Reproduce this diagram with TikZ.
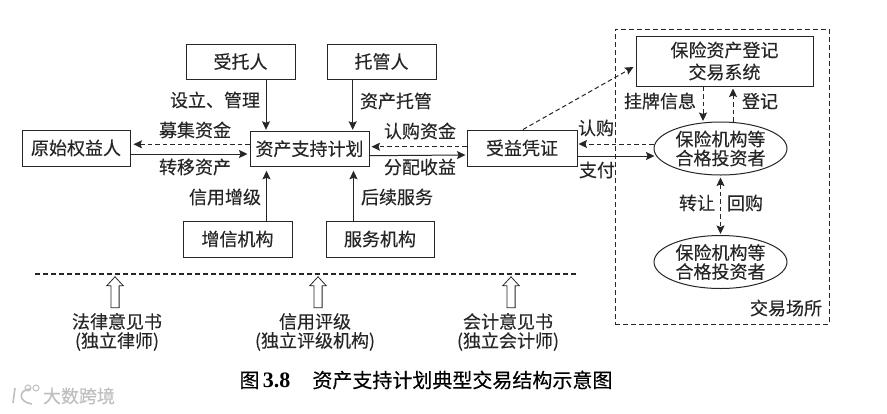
\documentclass[tikz,border=0pt]{standalone}
\usepackage{fontspec}
\setmainfont[FakeBold=0.25]{Noto Sans CJK SC}
\newfontfamily\capnum{Liberation Serif}
\usetikzlibrary{arrows.meta,shapes.geometric,shapes.arrows}
\tikzset{
  x=1pt,y=-1pt,
  every node/.style={font=\fontsize{18}{19}\selectfont,text=black!85,inner sep=0pt},
  tbox/.style={draw=black!85,line width=1pt,rectangle,align=center,fill=white},
  oval/.style={draw=black!85,line width=1pt,ellipse,align=center,minimum width=133pt,minimum height=53pt,fill=white},
  lbl/.style={align=center},
  solidarr/.style={draw=black!85,line width=1pt,-{Stealth[length=8.5pt,width=8pt,inset=1.5pt]}},
  dasharr/.style={solidarr,dash pattern=on 4.5pt off 3pt},
  bothdash/.style={dasharr,{Stealth[length=8.5pt,width=8pt,inset=1.5pt]}-{Stealth[length=8.5pt,width=8pt,inset=1.5pt]}},
  hollow/.style={draw=black!85,line width=0.8pt,single arrow,rotate=90,minimum height=31pt,minimum width=16pt,inner sep=3.7pt,single arrow head extend=4.2pt,single arrow tip angle=85},
  frame/.style={draw=black!85,line width=1pt,dash pattern=on 5pt off 3pt},
  wmline/.style={draw=black!25,line width=1.6pt},
}
\begin{document}
\begin{tikzpicture}
\useasboundingbox (0,0) rectangle (887,413);
\fill[white] (0,0) rectangle (887,413);
% market frame
\node[frame,rectangle,minimum width=214pt,minimum height=295pt] (market) at (722,176.5) {};
% boxes
\node[tbox,minimum width=109pt,minimum height=35pt] (trustee) at (240.5,61.5) {受托人};
\node[tbox,minimum width=109pt,minimum height=35pt] (custodian) at (381.5,61.5) {托管人};
\node[tbox,minimum width=108pt,minimum height=36pt] (orig) at (76,148) {原始权益人};
\node[tbox,minimum width=119pt,minimum height=35pt] (plan) at (309.5,148.8) {资产支持计划};
\node[tbox,minimum width=109pt,minimum height=36pt] (enhance) at (237.5,239) {增信机构};
\node[tbox,minimum width=108pt,minimum height=36pt] (service) at (380,239) {服务机构};
\node[tbox,minimum width=110pt,minimum height=36pt] (cert) at (522,148) {受益凭证};
\node[tbox,minimum width=177pt,minimum height=50pt,font=\fontsize{18}{22}\selectfont] (system) at (724.5,61) {保险资产登记\\交易系统};
\node[oval] (inv1) at (720.5,148.5) {保险机构等\\合格投资者};
\node[oval] (inv2) at (720.5,262) {保险机构等\\合格投资者};
% connectors
\draw[solidarr] ([xshift=25.5pt]trustee.south) -- ([xshift=-43.5pt,yshift=1pt]plan.north);
\draw[solidarr] ([xshift=-28.8pt]custodian.south) -- ([xshift=43.2pt,yshift=1pt]plan.north);
\draw[solidarr] ([xshift=29pt]enhance.north) -- ([xshift=-43pt,yshift=-4pt]plan.south);
\draw[solidarr] ([xshift=-26.5pt]service.north) -- ([xshift=44pt,yshift=-4pt]plan.south);
\draw[dasharr] ([yshift=4.5pt]plan.west) -- ([xshift=3pt,yshift=3.7pt]orig.east);
\draw[solidarr] ([yshift=-6pt]orig.east) -- ([xshift=-2pt,yshift=-5.2pt]plan.west);
\draw[dasharr] ([yshift=1.3pt]cert.west) -- ([xshift=2pt,yshift=2.1pt]plan.east);
\draw[solidarr] ([yshift=-6.9pt]plan.east) -- ([xshift=-1pt,yshift=-7pt]cert.west);
\draw[dasharr] ([xshift=1pt]cert.north) -- ([xshift=-2pt,yshift=-6pt]system.west);
\draw[dasharr] ([xshift=-21.5pt]system.south) -- ([xshift=-17.5pt,yshift=0.5pt]inv1.north);
\draw[dasharr] ([xshift=12.5pt]inv1.north) -- ([xshift=8.5pt,yshift=-2pt]system.south);
\draw[dasharr] ([yshift=4.5pt]inv1.west) -- ([xshift=1pt,yshift=4pt]cert.east);
\draw[solidarr] ([yshift=-8pt]cert.east) -- ([yshift=-7.5pt,xshift=1pt]inv1.west);
\draw[bothdash] ([yshift=-2pt]inv1.south) -- ([yshift=1pt]inv2.north);
% labels
\node[lbl] (l1) at (215,100) {设立、管理};
\node[lbl] (l2) at (396,101) {资产托管};
\node[lbl] (l3) at (195,130) {募集资金};
\node[lbl] (l4) at (195,167) {转移资产};
\node[lbl] (l5) at (420,131) {认购资金};
\node[lbl] (l6) at (420,167) {分配收益};
\node[lbl] (l7) at (225,197) {信用增级};
\node[lbl] (l8) at (397,197) {后续服务};
\node[lbl] (l9) at (660,101) {挂牌信息};
\node[lbl] (l10) at (760,101) {登记};
\node[lbl] (l11) at (596,128) {认购};
\node[lbl] (l12) at (597,170) {支付};
\node[lbl] (l13) at (697,203) {转让};
\node[lbl] (l14) at (745,203) {回购};
\node[lbl] (l15) at (786,308) {交易场所};
% divider
\coordinate (divA) at (35,274);
\coordinate (divB) at (578,274);
\draw[draw=black!85,line width=1.7pt,dash pattern=on 5pt off 3pt] (divA) -- (divB);
% opinion arrows and labels
\node[hollow] (h1) at (115,294.5) {};
\node[hollow] (h2) at (318,294.5) {};
\node[hollow] (h3) at (511,294.5) {};
\node[lbl] (o1) at (117,332) {法律意见书\\(独立律师)};
\node[lbl] (o2) at (315,332) {信用评级\\(独立评级机构)};
\node[lbl] (o3) at (508,332) {会计意见书\\(独立会计师)};
% caption
\node[font=\fontsize{20}{22}\selectfont,text=black] (cap) at (426,380) {图\,{\capnum\bfseries\fontsize{22}{22}\selectfont 3.8}\hspace{1.1em}资产支持计划典型交易结构示意图};
% watermark
\node[font=\fontsize{18}{19}\selectfont,text=black!25] (wm) at (79,396) {大数跨境};
\draw[wmline] (15,388) -- (13,403);
\draw[wmline] (30,389) .. controls (18,390) and (18,402) .. (32,404);
\draw[wmline,line width=1pt] (28,388) circle (3pt);
\draw[wmline,line width=1pt] (36,388) circle (3pt);
\end{tikzpicture}
\end{document}
